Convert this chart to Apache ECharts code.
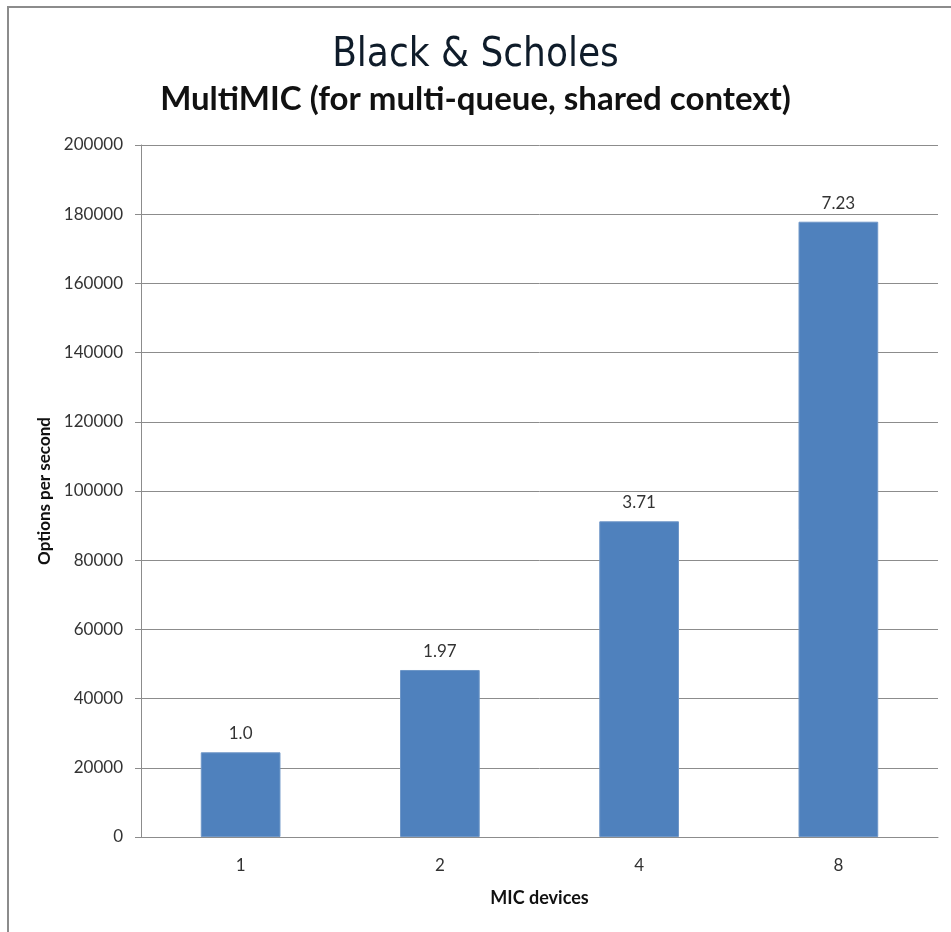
<!DOCTYPE html>
<html>
<head>
<meta charset="utf-8">
<style>
  html, body { margin: 0; padding: 0; background: #fff; }
  #chart { width: 951px; height: 932px; }
</style>
<script src="https://cdn.jsdelivr.net/npm/echarts@6/dist/echarts.min.js"></script>
</head>
<body>
<div id="chart"></div>
<script>
// chart data
var devices = ['1', '2', '4', '8']
var optionsPerSecond = [24480, 48270, 91240, 177830]
var speedup = ['1.0', '1.97', '3.71', '7.23']

var chart = echarts.init(document.getElementById('chart'))

chart.setOption({
  animation: false,
  textStyle: { fontFamily: 'Lato' },
  title: [{
    text: 'Black & Scholes',
    left: 'center',
    top: 31,
    textStyle: {
      fontFamily: '"Liberation Sans Narrow", "DejaVu Sans Condensed", sans-serif',
      fontSize: 40,
      fontWeight: 500,
      color: '#0f1c2a'
    }
  }, {
    text: 'MultiMIC (for multi-queue, shared context)',
    left: 'center',
    top: 78,
    textStyle: {
      fontFamily: 'Lato',
      fontSize: 33,
      fontWeight: 'bold',
      color: '#111'
    }
  }],
  graphic: [{
    type: 'polyline',
    shape: { points: [[8, 932], [8, 7], [951, 7]] },
    style: { stroke: '#8c8c8c', lineWidth: 2, fill: null }
  }],
  grid: {
    left: 141,
    right: 13,
    top: 145,
    bottom: 95
  },
  xAxis: {
    type: 'category',
    data: devices,
    name: 'MIC devices',
    nameLocation: 'middle',
    nameGap: 52,
    nameTextStyle: { fontSize: 18, fontWeight: 'bold', color: '#111' },
    axisLine: { lineStyle: { color: '#8c8c8c' } },
    axisTick: { show: false },
    axisLabel: { margin: 20, fontSize: 17, color: '#333' }
  },
  yAxis: {
    type: 'value',
    min: 0,
    max: 200000,
    interval: 20000,
    name: 'Options per second',
    nameLocation: 'middle',
    nameGap: 84,
    nameTextStyle: { fontSize: 17, fontWeight: 'bold', color: '#111' },
    axisLine: { show: true, lineStyle: { color: '#8c8c8c' } },
    axisTick: { show: true, length: 6, lineStyle: { color: '#8c8c8c' } },
    axisLabel: {
      margin: 18,
      fontSize: 17,
      color: '#333',
      formatter: function(v) {
        return String(v)
      }
    },
    splitLine: { lineStyle: { color: '#8c8c8c', width: 1 } }
  },
  series: [{
    type: 'bar',
    data: optionsPerSecond,
    barWidth: '40%',
    itemStyle: { color: '#4f81bd', borderColor: '#6f97c8', borderWidth: 1 },
    label: {
      show: true,
      position: 'top',
      distance: 10,
      fontSize: 17,
      color: '#333',
      formatter: function(p) {
        return speedup[p.dataIndex]
      }
    }
  }]
})
</script>
</body>
</html>
